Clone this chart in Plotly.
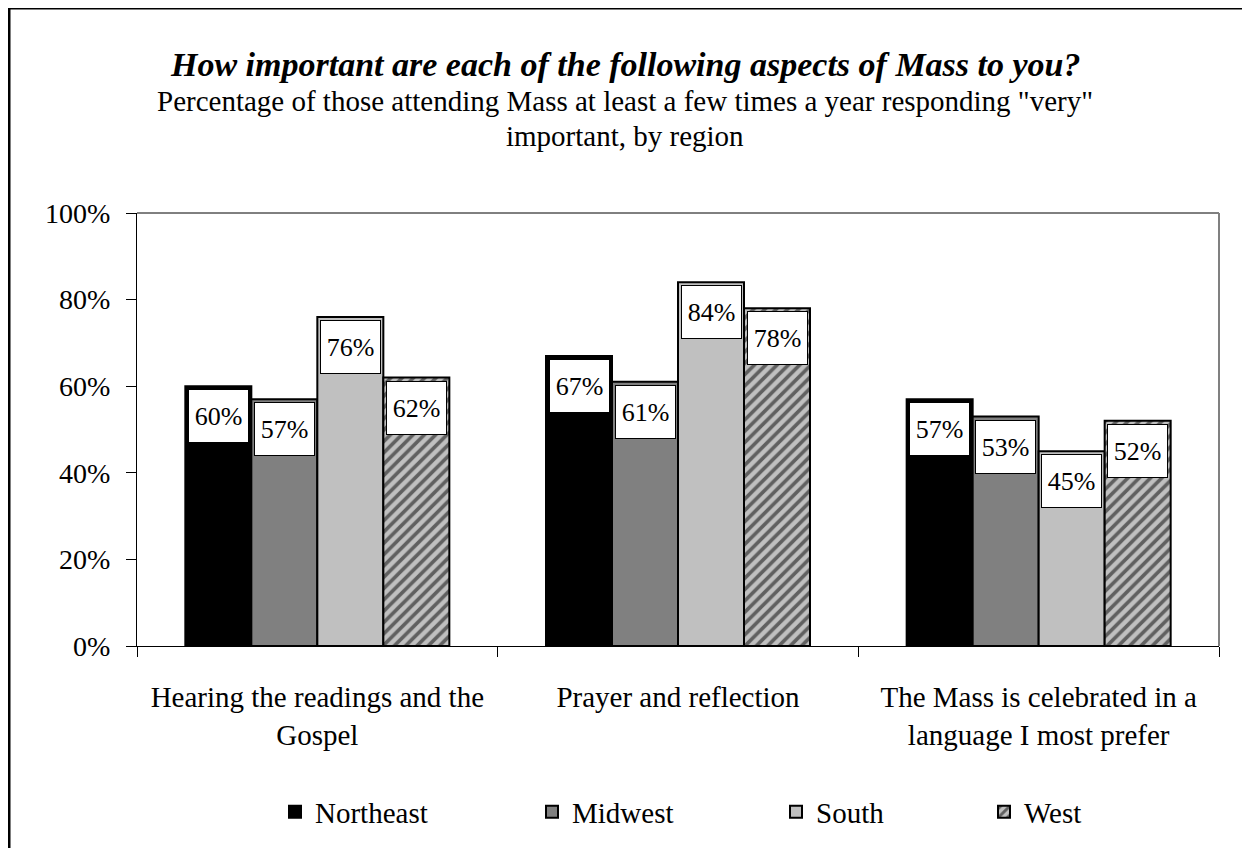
import plotly.graph_objects as go

categories = ["Hearing the readings and the<br>Gospel",
              "Prayer and reflection",
              "The Mass is celebrated in a<br>language I most prefer"]
regions = ["Northeast", "Midwest", "South", "West"]
northeast = [60, 67, 57]
midwest = [57, 61, 53]
south = [76, 84, 45]
west = [62, 78, 52]
y_ticks = [0, 20, 40, 60, 80, 100]

title = "How important are each of the following aspects of Mass to you?"
subtitle = ["Percentage of those attending Mass at least a few times a year responding \"very\"",
            "important, by region"]

series = [northeast, midwest, south, west]
fills = ["#000000", "#808080", "#c0c0c0", "#c0c0c0"]
legend_left = [267, 524, 768, 976]  # figure px of each legend entry
FONT = "Liberation Serif, Times New Roman, serif"
BARGAP = 0.268

# page body adds 8px, so the figure is laid out 8px smaller
W, H = 1242, 840
L, R, T, B = 129, 31, 205, 202
PH = H - T - B


def py(pix):
    # figure pixel row -> paper y
    return 1 + (T - pix) / PH


def px_(pix):
    return (pix - L) / (W - L - R)


fig = go.Figure()
legends = {}
for k, (name, vals) in enumerate(zip(regions, series)):
    pattern = dict(shape="/", fgcolor="#000000", bgcolor="#c0c0c0",
                   size=8, solidity=0.45) if name == "West" else dict(shape="")
    lg = "legend" if k == 0 else f"legend{k + 1}"
    fig.add_trace(go.Bar(
        x=categories, y=vals, name=name, legend=lg, showlegend=True,
        marker=dict(color=fills[k], line=dict(color="#000000", width=2),
                    pattern=pattern),
    ))
    legends[lg] = dict(orientation="h", x=px_(legend_left[k]), xanchor="left",
                       y=py(804), yanchor="middle", bgcolor="rgba(0,0,0,0)",
                       font=dict(family=FONT, size=29, color="#000000"))

# value labels: white boxes at the top of each bar
w = (1 - BARGAP) / len(regions)
annotations = []
for k, vals in enumerate(series):
    off = -(1 - BARGAP) / 2 + (k + 0.5) * w
    for i, v in enumerate(vals):
        annotations.append(dict(
            x=i + off, y=v, xref="x", yref="y", text=f"{v}%",
            showarrow=False, yanchor="top", yshift=-3,
            width=57, height=50, borderpad=1, borderwidth=1,
            bordercolor="#000000", bgcolor="#ffffff",
            font=dict(family=FONT, size=26, color="#000000"),
        ))

# title and subtitle lines
annotations.append(dict(
    text=f"<b><i>{title}</i></b>", xref="paper", yref="paper",
    x=px_(617), y=py(57), xanchor="center", yanchor="middle", showarrow=False,
    font=dict(family=FONT, size=34, color="#000000")))
for j, line in enumerate(subtitle):
    annotations.append(dict(
        text=line, xref="paper", yref="paper",
        x=px_(617), y=py(93 + 35 * j), xanchor="center", yanchor="middle",
        showarrow=False, font=dict(family=FONT, size=29, color="#000000")))

fig.update_layout(
    width=W, height=H, showlegend=True,
    margin=dict(l=L, r=R, t=T, b=B, autoexpand=False),
    paper_bgcolor="#ffffff", plot_bgcolor="#ffffff",
    barmode="group", bargap=BARGAP, bargroupgap=0,
    font=dict(family=FONT, size=29, color="#000000"),
    xaxis=dict(showline=True, linecolor="#000000", linewidth=1,
               ticks="outside", tickson="boundaries", ticklen=10,
               tickcolor="#000000", showgrid=False, ticklabelstandoff=25,
               tickfont=dict(size=29)),
    yaxis=dict(range=[0, 100], tickvals=y_ticks,
               ticktext=[f"{t}%" for t in y_ticks],
               showline=True, linecolor="#000000", linewidth=1,
               ticks="outside", ticklen=10, tickcolor="#000000",
               showgrid=False, zeroline=False, ticklabelstandoff=10,
               tickfont=dict(size=28)),
    annotations=annotations,
    shapes=[
        # plot area border (top black, right grey)
        dict(type="line", xref="paper", yref="paper", x0=0, x1=1, y0=1, y1=1,
             line=dict(color="#000000", width=1)),
        dict(type="line", xref="paper", yref="paper", x0=1, x1=1, y0=0, y1=1,
             line=dict(color="#808080", width=2)),
        # outer chart border
        dict(type="line", xref="paper", yref="paper", x0=px_(1), x1=px_(1),
             y0=py(H + 10), y1=py(0), line=dict(color="#000000", width=3)),
        dict(type="line", xref="paper", yref="paper", x0=px_(0), x1=px_(W + 10),
             y0=py(0), y1=py(0), line=dict(color="#000000", width=3)),
    ],
    **legends,
)

fig.write_html("out.html")
